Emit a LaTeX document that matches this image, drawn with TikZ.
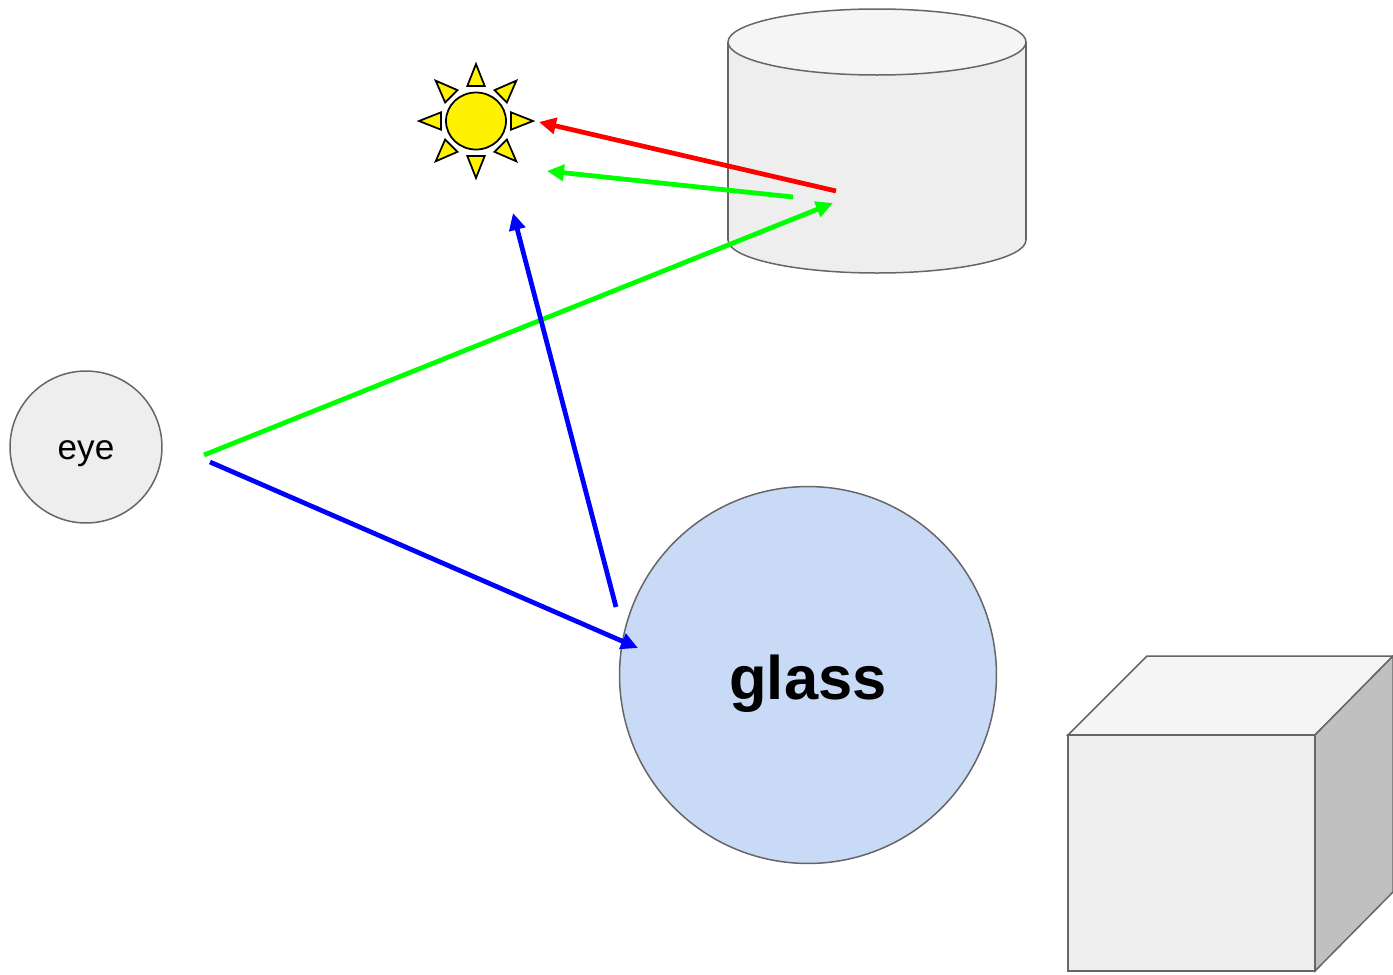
\documentclass[tikz,border=0pt]{standalone}
\usepackage{fontspec}
\setmainfont{Liberation Sans}
\usetikzlibrary{arrows.meta,shapes.geometric}
\definecolor{shapegray}{HTML}{666666}
\definecolor{lightfill}{HTML}{EEEEEE}
\definecolor{topfill}{HTML}{F5F5F5}
\definecolor{sidefill}{HTML}{C0C0C0}
\definecolor{glassfill}{HTML}{C9DAF6}
\tikzset{
  solid shape/.style={draw=shapegray, line width=0.03cm},
  ray/.style={line width=0.095cm, -{Triangle[length=0.34cm, width=0.32cm]}},
  sunpart/.style={draw=black, line width=0.035cm, fill=yellow}
}
\begin{document}
\begin{tikzpicture}[x=0.02cm, y=-0.02cm]
    \newcommand\CX{877}
    \newcommand\CT{42}
    \newcommand\CB{240}
    \useasboundingbox (0,0) rectangle (1393,974);
    % cylinder
    \filldraw[solid shape, fill=lightfill] (\CX,\CB) ellipse [x radius=149, y radius=33];
    \fill[lightfill] (728,\CT) rectangle (1026,\CB);
    \draw[solid shape] (728,\CT) -- (728,\CB) (1026,\CT) -- (1026,\CB);
    \filldraw[solid shape, fill=topfill] (\CX,\CT) ellipse [x radius=149, y radius=33];
    % cube
    \filldraw[solid shape, fill=topfill] (1068,735) -- (1147,656) -- (1393,656) -- (1315,735) -- cycle;
    \filldraw[solid shape, fill=sidefill] (1315,735) -- (1393,656) -- (1393,892) -- (1315,971) -- cycle;
    \filldraw[solid shape, fill=lightfill] (1068,735) rectangle (1315,971);
    % sun
    \node[ellipse, sunpart, minimum width=1.2cm, minimum height=1.14cm, inner sep=0pt] (sun) at (476,121) {};
    \begin{scope}[shift={(sun.center)}]
      \foreach \a in {0,45,...,315}
        \draw[sunpart] (\a-14:36) -- (\a:57) -- (\a+14:36) -- cycle;
    \end{scope}
    % eye and glass
    \node[circle, solid shape, fill=lightfill, minimum size=3.04cm, text height=18.9pt, text depth=4.2pt,
      font=\fontsize{20}{24}\selectfont] (eye) at (86,447) {eye};
    \node[circle, solid shape, fill=glassfill, minimum size=7.54cm, text height=35.7pt, text depth=7.4pt,
      font=\fontsize{35}{42}\selectfont\bfseries] (glass) at (808,675) {glass};
    % ray ends
    \coordinate (R0) at (836,191);
    \coordinate (R1) at (539,122);
    \coordinate (G0) at (204,455);
    \coordinate (G1) at (833,203);
    \coordinate (G2) at (793,197);
    \coordinate (G3) at (547,171);
    \coordinate (B0) at (210,462);
    \coordinate (B1) at (638,648);
    \coordinate (B2) at (616,607);
    \coordinate (B3) at (513,213);
    \draw[ray, red] (R0) -- (R1);
    \draw[ray, green] (G0) -- (G1);
    \draw[ray, green] (G2) -- (G3);
    \draw[ray, blue] (B0) -- (B1);
    \draw[ray, blue] (B2) -- (B3);
\end{tikzpicture}
\end{document}
